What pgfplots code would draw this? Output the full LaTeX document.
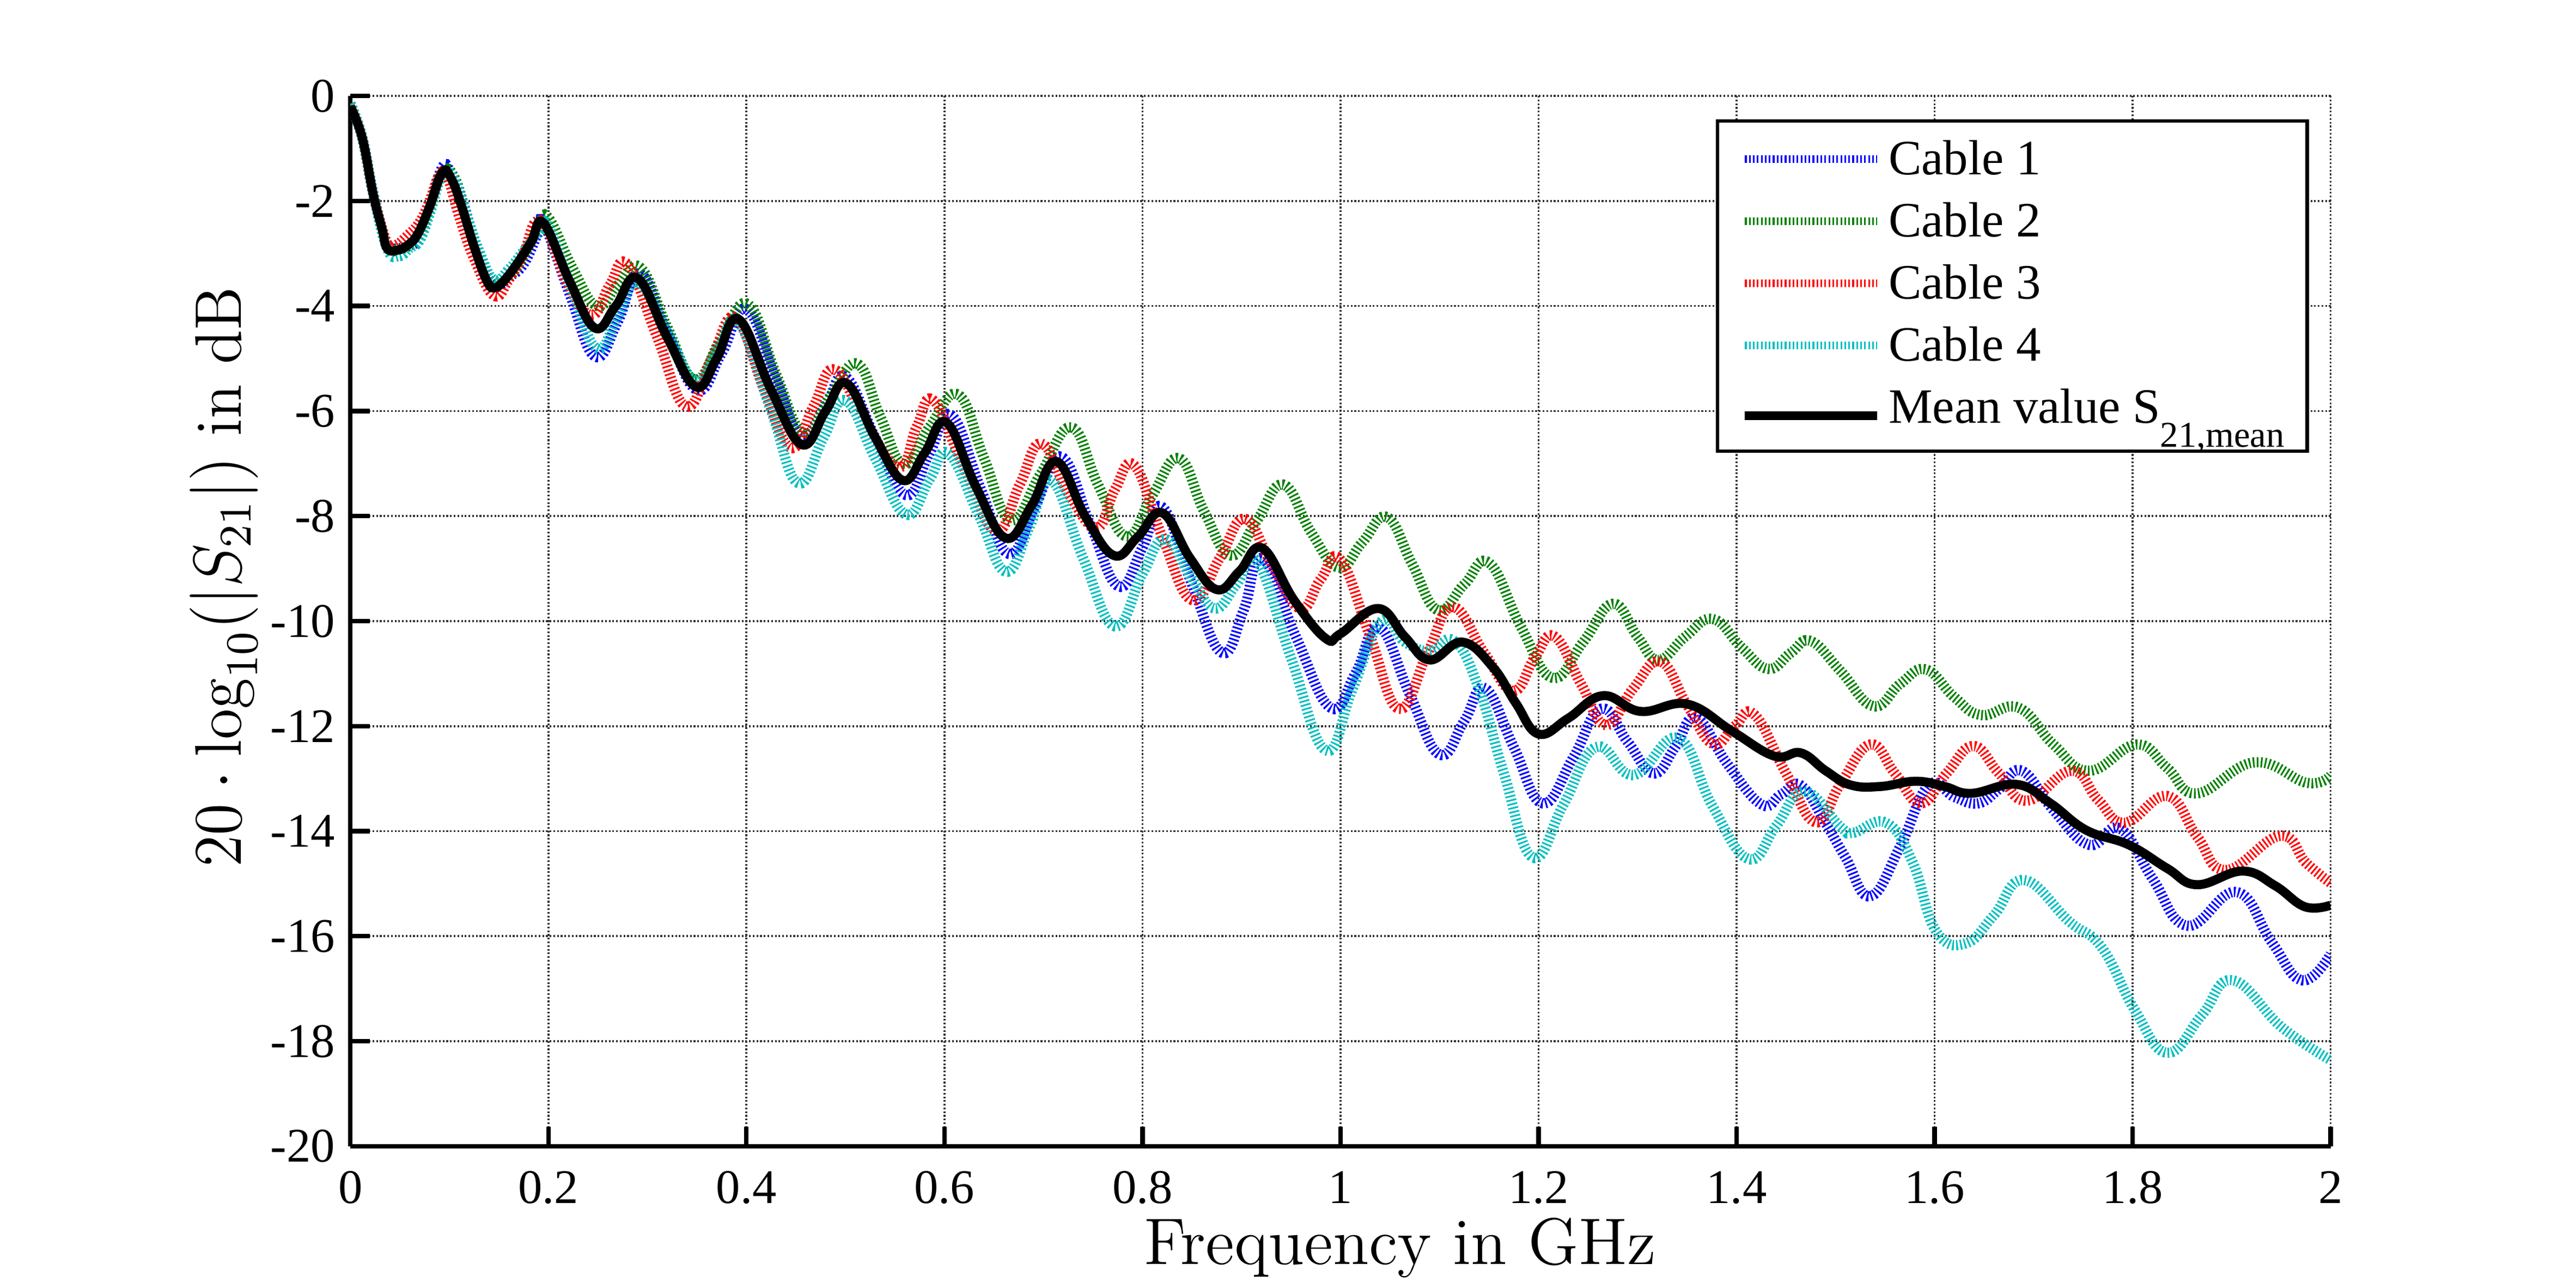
\documentclass[border=0pt]{standalone}
\usepackage{fontspec}
\usepackage{pgfplots}
\pgfplotsset{compat=1.18}
\usetikzlibrary{calc}
\newfontfamily\libserif{Liberation Serif}
\definecolor{mblue}{rgb}{0,0,1}
\definecolor{mgreen}{rgb}{0,0.5,0}
\definecolor{mred}{rgb}{1,0,0}
\definecolor{mcyan}{rgb}{0,0.75,0.75}
\pgfplotsset{
  colstyle/.style={smooth, tension=0.75, line width=1.8pt, dash pattern=on 0.3pt off 0.4pt, #1,
    legend image code/.code={\draw[##1, line width=1.4pt] (0pt,2.75pt) -- (23.3pt,2.75pt);}},
  meanstyle/.style={smooth, tension=0.7, black, line width=1.6pt,
    legend image code/.code={\draw[##1] (0pt,1.3pt) -- (23.3pt,1.3pt);}},
}
\begin{document}
\begin{tikzpicture}
\begin{axis}[
  name=ax, at={(0,0)}, anchor=south west,
  scale only axis, width=348.7pt, height=184.9pt,
  xmin=0, xmax=2, ymin=-20, ymax=0,
  axis x line=bottom, axis y line=left,
  axis line style={-, line width=0.8pt, black},
  xtick={0,0.2,0.4,0.6,0.8,1,1.2,1.4,1.6,1.8,2},
  ytick={-20,-18,-16,-14,-12,-10,-8,-6,-4,-2,0},
  tick align=inside, major tick length=3.4pt,
  every tick/.style={black, line width=0.8pt},
  grid=major,
  major grid style={black!80, line width=0.35pt, dash pattern=on 0.3pt off 0.35pt},
  /pgf/number format/assume math mode=true,
  tick label style={font=\libserif\fontsize{8.5}{10}\selectfont, inner sep=0pt},
  xticklabel style={yshift=-4.2pt},
  yticklabel style={xshift=-2.5pt},
  xlabel={Frequency in GHz},
  xlabel style={at={(axis description cs:0.530,-0.1125)}, anchor=base, inner sep=0pt, font=\fontsize{11.6}{13}\selectfont},
  ylabel={\scalebox{0.952}[1]{$20\cdot\log_{10}(|S_{21}|)$ in dB}},
  ylabel style={at={(axis description cs:-0.0553,0.542)}, anchor=base, inner sep=0pt, font=\fontsize{11.6}{13}\selectfont},
  legend style={at={(rel axis cs:0.989,0.978)}, anchor=north east, draw=black, line width=0.6pt, fill=white,
    font=\libserif\fontsize{8.7}{10}\selectfont, inner xsep=4pt, inner ysep=3.45pt,
    row sep=3.4pt, column sep=1.2pt, nodes={inner sep=0pt}, cells={anchor=base west}},
]
% Cable 1
\addplot[colstyle=mblue] coordinates {
(0,-0.15)(0.012,-0.8)(0.023,-1.85)(0.037,-2.85)(0.047,-2.9)(0.06,-2.85)(0.07,-2.7)(0.08,-2.15)(0.093,-1.35)(0.102,-1.5)
(0.115,-2.1)(0.128,-2.95)(0.145,-3.6)(0.16,-3.45)(0.175,-3.2)(0.19,-2.6)(0.196,-2.45)(0.222,-3.8)(0.247,-4.96)(0.27,-4.3)
(0.292,-3.38)(0.32,-4.5)(0.35,-5.6)(0.375,-4.9)(0.4,-4.06)(0.43,-5.4)(0.455,-6.47)(0.48,-5.9)(0.5,-5.35)(0.53,-6.5)
(0.561,-7.6)(0.585,-6.8)(0.607,-6.08)(0.637,-7.5)(0.665,-8.72)(0.692,-7.8)(0.718,-6.87)(0.748,-8.2)(0.776,-9.34)(0.8,-8.6)
(0.82,-7.83)(0.85,-9.3)(0.88,-10.6)(0.902,-9.8)(0.921,-8.81)(0.955,-10.3)(0.99,-11.65)(1.015,-11.0)(1.039,-10.12)(1.07,-11.4)
(1.1,-12.54)(1.125,-11.9)(1.146,-11.28)(1.175,-12.4)(1.204,-13.47)(1.235,-12.6)(1.263,-11.67)(1.29,-12.3)(1.316,-12.9)(1.338,-12.4)
(1.359,-11.84)(1.39,-12.7)(1.425,-13.49)(1.445,-13.3)(1.465,-13.13)(1.49,-13.85)(1.51,-14.5)(1.535,-15.24)(1.565,-14.3)(1.594,-13.13)
(1.62,-13.35)(1.644,-13.47)(1.665,-13.2)(1.688,-12.85)(1.72,-13.6)(1.756,-14.26)(1.787,-13.95)(1.82,-14.9)(1.855,-15.8)(1.905,-15.16)
(1.94,-16.1)(1.971,-16.84)(2.0,-16.34)};
\addlegendentry{\rule{0pt}{6pt}Cable 1}
% Cable 2
\addplot[colstyle=mgreen] coordinates {
(0,-0.15)(0.012,-0.8)(0.023,-1.85)(0.037,-2.85)(0.047,-2.92)(0.06,-2.85)(0.07,-2.65)(0.08,-2.15)(0.093,-1.45)(0.105,-1.55)
(0.118,-2.3)(0.13,-3.0)(0.145,-3.55)(0.16,-3.45)(0.175,-3.05)(0.19,-2.5)(0.2,-2.32)(0.225,-3.3)(0.249,-4.0)(0.27,-3.6)
(0.293,-3.27)(0.32,-4.4)(0.348,-5.4)(0.375,-4.6)(0.402,-3.97)(0.43,-5.3)(0.458,-6.42)(0.485,-5.7)(0.512,-5.1)(0.535,-6.1)
(0.559,-7.01)(0.585,-6.3)(0.614,-5.69)(0.64,-6.9)(0.667,-8.08)(0.697,-7.2)(0.728,-6.31)(0.755,-7.4)(0.784,-8.39)(0.81,-7.6)
(0.837,-6.9)(0.862,-7.9)(0.889,-8.75)(0.915,-8.1)(0.942,-7.4)(0.97,-8.3)(0.998,-8.98)(1.022,-8.5)(1.047,-8.02)(1.072,-8.9)
(1.098,-9.79)(1.125,-9.3)(1.15,-8.89)(1.182,-10.1)(1.214,-11.08)(1.245,-10.4)(1.275,-9.67)(1.3,-10.3)(1.321,-10.74)(1.348,-10.3)
(1.376,-9.96)(1.405,-10.5)(1.432,-10.91)(1.455,-10.6)(1.475,-10.38)(1.505,-10.95)(1.538,-11.62)(1.565,-11.2)(1.591,-10.92)(1.62,-11.45)
(1.647,-11.79)(1.685,-11.65)(1.72,-12.35)(1.756,-12.85)(1.804,-12.35)(1.835,-12.8)(1.865,-13.28)(1.923,-12.69)(1.976,-13.08)(2.0,-12.94)};
\addlegendentry{\rule{0pt}{6pt}Cable 2}
% Cable 3
\addplot[colstyle=mred] coordinates {
(0,-0.15)(0.012,-0.8)(0.023,-1.85)(0.037,-2.8)(0.045,-2.85)(0.058,-2.65)(0.07,-2.4)(0.08,-2.0)(0.09,-1.5)(0.098,-1.55)
(0.11,-2.3)(0.125,-3.1)(0.145,-3.8)(0.16,-3.5)(0.175,-3.0)(0.187,-2.4)(0.2,-2.6)(0.22,-3.6)(0.244,-4.17)(0.262,-3.6)
(0.28,-3.21)(0.31,-4.6)(0.339,-5.91)(0.365,-5.0)(0.389,-4.22)(0.418,-5.6)(0.445,-6.7)(0.468,-5.9)(0.489,-5.21)(0.52,-6.2)
(0.554,-7.07)(0.572,-6.3)(0.589,-5.8)(0.62,-7.1)(0.652,-8.28)(0.676,-7.4)(0.698,-6.62)(0.726,-7.6)(0.754,-8.22)(0.772,-7.5)
(0.792,-7.04)(0.82,-8.4)(0.85,-9.6)(0.878,-8.8)(0.903,-8.05)(0.93,-8.9)(0.959,-9.76)(0.98,-9.2)(1.0,-8.83)(1.03,-10.3)
(1.059,-11.67)(1.088,-10.6)(1.113,-9.73)(1.145,-10.6)(1.174,-11.33)(1.196,-10.7)(1.216,-10.29)(1.243,-11.2)(1.268,-11.98)(1.295,-11.3)
(1.323,-10.77)(1.35,-11.6)(1.376,-12.34)(1.398,-12.0)(1.418,-11.78)(1.45,-12.9)(1.48,-13.83)(1.505,-13.1)(1.535,-12.35)(1.56,-12.9)
(1.586,-13.47)(1.612,-12.9)(1.639,-12.38)(1.665,-12.9)(1.693,-13.42)(1.738,-12.85)(1.765,-13.4)(1.792,-13.84)(1.835,-13.33)(1.865,-14.1)
(1.894,-14.74)(1.949,-14.09)(1.975,-14.6)(2.0,-14.99)};
\addlegendentry{\rule{0pt}{6pt}Cable 3}
% Cable 4
\addplot[colstyle=mcyan] coordinates {
(0,-0.15)(0.012,-0.8)(0.023,-1.85)(0.037,-2.9)(0.049,-3.05)(0.06,-2.9)(0.07,-2.75)(0.08,-2.25)(0.093,-1.5)(0.105,-1.6)
(0.118,-2.3)(0.13,-2.95)(0.145,-3.5)(0.16,-3.3)(0.175,-2.95)(0.19,-2.6)(0.2,-2.48)(0.225,-3.75)(0.249,-4.81)(0.27,-4.2)
(0.29,-3.55)(0.32,-4.5)(0.349,-5.43)(0.372,-4.8)(0.392,-4.31)(0.425,-6.0)(0.452,-7.37)(0.478,-6.5)(0.5,-5.8)(0.53,-6.9)
(0.561,-7.97)(0.585,-7.3)(0.604,-6.81)(0.635,-8.0)(0.662,-9.06)(0.686,-8.2)(0.708,-7.32)(0.74,-8.8)(0.772,-10.1)(0.8,-9.1)
(0.823,-8.44)(0.85,-9.2)(0.873,-9.76)(0.895,-9.3)(0.916,-8.87)(0.95,-10.7)(0.985,-12.46)(1.012,-11.3)(1.041,-10.01)(1.065,-10.4)
(1.09,-10.57)(1.115,-10.38)(1.14,-11.3)(1.165,-12.9)(1.194,-14.5)(1.225,-13.5)(1.258,-12.4)(1.296,-12.93)(1.341,-12.23)(1.375,-13.5)
(1.412,-14.53)(1.44,-13.9)(1.468,-13.24)(1.505,-13.92)(1.518,-14.03)(1.551,-13.84)(1.578,-14.6)(1.601,-15.89)(1.631,-16.14)(1.66,-15.6)
(1.69,-14.93)(1.736,-15.72)(1.769,-16.22)(1.802,-17.4)(1.835,-18.22)(1.87,-17.5)(1.901,-16.84)(1.951,-17.74)(2.0,-18.36)};
\addlegendentry{\rule{0pt}{6pt}Cable 4}
% Mean
\addplot[meanstyle] coordinates {
(0,-0.2)(0.012,-0.8)(0.023,-1.87)(0.032,-2.53)(0.037,-2.9)(0.047,-2.94)(0.058,-2.84)(0.068,-2.63)(0.08,-2.11)(0.093,-1.45)
(0.102,-1.58)(0.112,-2.08)(0.125,-2.87)(0.138,-3.53)(0.146,-3.65)(0.156,-3.5)(0.17,-3.15)(0.183,-2.77)(0.195,-2.42)(0.222,-3.55)
(0.247,-4.42)(0.268,-4.0)(0.29,-3.47)(0.32,-4.6)(0.349,-5.54)(0.37,-5.0)(0.392,-4.25)(0.425,-5.6)(0.456,-6.64)(0.48,-6.0)
(0.501,-5.47)(0.53,-6.5)(0.558,-7.32)(0.58,-6.8)(0.602,-6.22)(0.632,-7.45)(0.662,-8.42)(0.688,-7.8)(0.713,-6.96)(0.742,-8.0)
(0.771,-8.75)(0.795,-8.4)(0.82,-7.94)(0.848,-8.8)(0.875,-9.4)(0.898,-9.05)(0.921,-8.61)(0.953,-9.6)(0.985,-10.33)(1.0,-10.24)
(1.038,-9.76)(1.065,-10.3)(1.09,-10.74)(1.123,-10.4)(1.154,-10.88)(1.177,-11.56)(1.2,-12.15)(1.23,-11.85)(1.265,-11.42)(1.303,-11.72)
(1.35,-11.58)(1.395,-12.09)(1.438,-12.57)(1.465,-12.51)(1.49,-12.85)(1.515,-13.12)(1.545,-13.15)(1.581,-13.05)(1.61,-13.15)(1.637,-13.28)
(1.683,-13.11)(1.717,-13.47)(1.753,-13.98)(1.796,-14.26)(1.835,-14.71)(1.865,-15.02)(1.911,-14.76)(1.944,-15.04)(1.974,-15.44)(2.0,-15.41)};
\addlegendentry{\rule{0pt}{6pt}Mean value S\raisebox{-4.2pt}[0pt][3.75pt]{\fontsize{6.4}{7}\selectfont 21,mean}}
\end{axis}
\pgfresetboundingbox
\path[use as bounding box] ($(ax.south west)+(-61.7pt,-24.9pt)$) rectangle ($(ax.north east)+(43.2pt,16.9pt)$);
\end{tikzpicture}
\end{document}
